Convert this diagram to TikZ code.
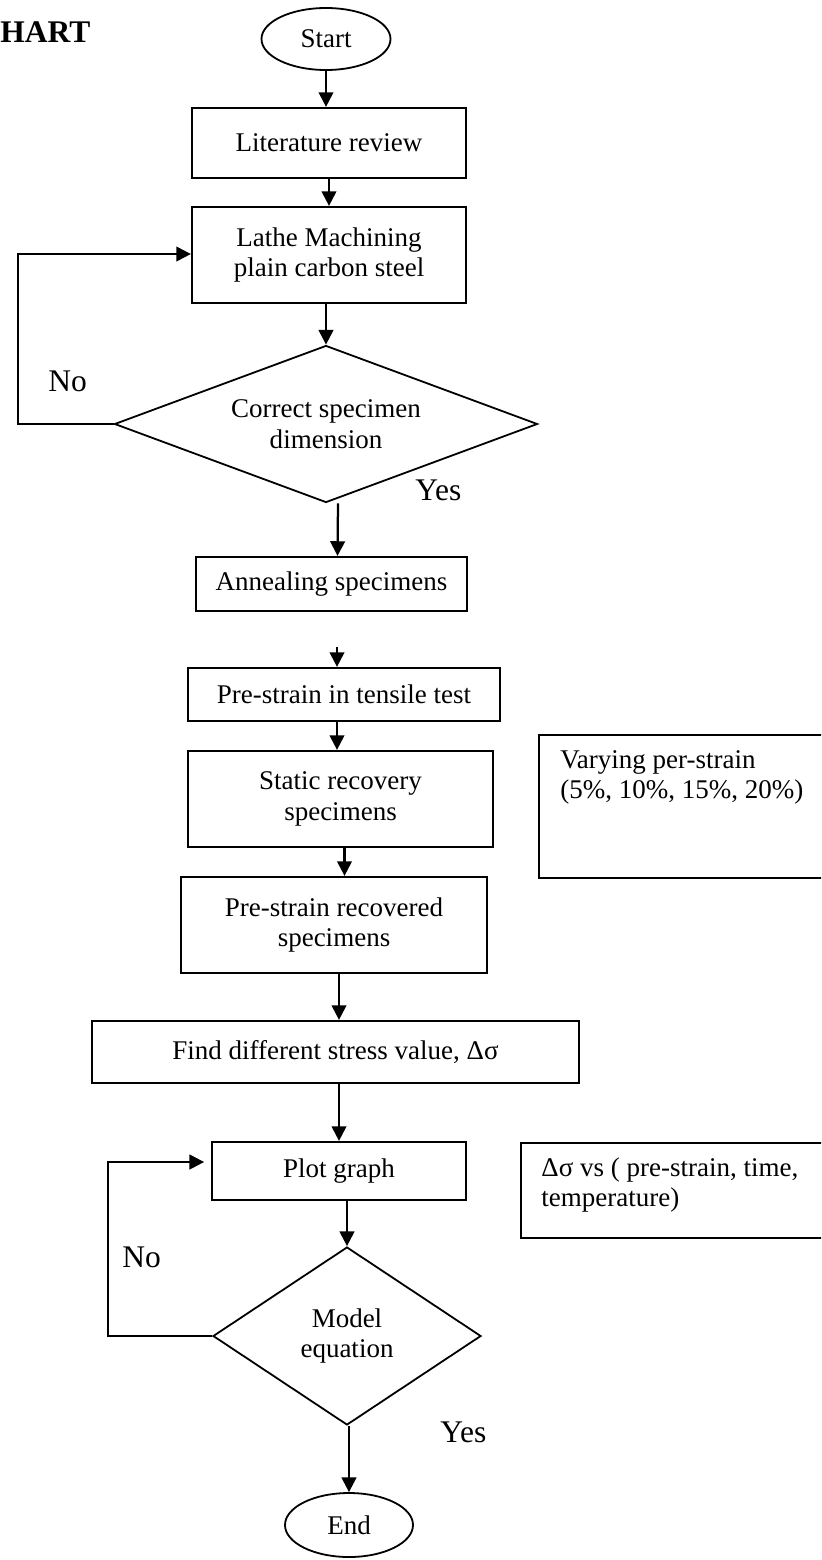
\documentclass[tikz,border=0pt]{standalone}
\usepackage{fontspec}
\setmainfont{Liberation Serif}
\usetikzlibrary{shapes.geometric,arrows.meta,calc}
\newcommand{\px}{0.4444pt}

\begin{document}
\begin{tikzpicture}[x = \px, y = -\px, >= {Triangle[length=6.5pt,width=6.5pt]},
    every node/.style = {font=\fontsize{12}{13.5}\selectfont},
    box/.style = {draw, line width=1pt, rectangle, align=center, inner sep=0pt},
    term/.style = {draw, line width=0.8pt, ellipse, inner sep=0pt},
    decision/.style = {draw, line width=0.8pt, diamond, align=center, inner sep=0pt},
    note/.style = {align=left, inner sep=0pt, anchor=north west},
    answer/.style = {font=\fontsize{14}{16}\selectfont, anchor=base west, inner sep=0pt},
    flow/.style = {->, line width=1pt}]
      \useasboundingbox (0, 0) rectangle (821, 1560);
      \clip (0, 0) rectangle (821, 1560);
      \node[font=\bfseries\fontsize{14}{16}\selectfont, anchor=base west, inner sep=0pt] (title) at (0, 42) {HART};
      % main column
      \node[term, minimum width=129*\px, minimum height=62*\px] (start) at (326, 39) {Start};
      \node[box, minimum width=274*\px, minimum height=70*\px] (lit) at (329, 143) {Literature review};
      \node[box, minimum width=274*\px, minimum height=96*\px] (lathe) at (329, 255) {Lathe Machining\\plain carbon steel};
      \node[decision, aspect=2.7, minimum width=423*\px, minimum height=157*\px] (check) at (326, 424) {Correct specimen\\dimension};
      \node[box, minimum width=271*\px, minimum height=54*\px] (anneal) at (331.5, 584) {Annealing specimens};
      \node[box, minimum width=312*\px, minimum height=53*\px] (prestrain) at (344, 694.5) {Pre-strain in tensile test};
      \node[box, minimum width=305*\px, minimum height=96*\px] (recovery) at (340.5, 799) {Static recovery\\specimens};
      \node[box, minimum width=306*\px, minimum height=96*\px] (restrain) at (334, 925) {Pre-strain recovered\\specimens};
      \node[box, minimum width=487*\px, minimum height=62*\px] (stress) at (335.5, 1052) {Find different stress value, Δσ};
      \node[box, minimum width=254*\px, minimum height=58*\px] (plot) at (339, 1171) {Plot graph};
      \node[decision, aspect=1.5, minimum width=268*\px, minimum height=178*\px] (model) at (347, 1336) {Model\\equation};
      \node[term, minimum width=128*\px, minimum height=64*\px] (end) at (349, 1525) {End};
      % side notes
      \node[box, anchor=north west, minimum width=320*\px, minimum height=143*\px] (vary) at (538, 734) {};
      \node[note] (varytext) at (560, 750) {Varying per-strain\\(5\%, 10\%, 15\%, 20\%)};
      \node[box, anchor=north west, minimum width=320*\px, minimum height=95*\px] (vsbox) at (520, 1142) {};
      \node[note] (vstext) at (541, 1157) {Δσ vs ( pre-strain, time,\\temperature)};
      % answers
      \node[answer] (no1) at (48, 391) {No};
      \node[answer] (yes1) at (415, 500) {Yes};
      \node[answer] (no2) at (122, 1267) {No};
      \node[answer] (yes2) at (440, 1442) {Yes};
      % arrows
      \draw[flow] (start) -- (start |- lit.north);
      \draw[flow] (lit) -- (lathe);
      \draw[flow] (lathe.south -| check.north) -- (check.north);
      \draw[flow] ($(check.south)+(12, 0)$) -- ($(anneal.north)+(6, 0)$);
      \coordinate (gap) at (337, 647);
      \draw[flow] (gap) -- (gap |- prestrain.north);
      \draw[flow] (gap |- prestrain.south) -- (gap |- recovery.north);
      \draw[flow] ($(recovery.south)+(4, 0)$) -- ($(recovery.south |- restrain.north)+(4, 0)$);
      \draw[flow] ($(restrain.south)+(5, 0)$) -- ($(restrain.south |- stress.north)+(5, 0)$);
      \draw[flow] (plot |- stress.south) -- (plot.north);
      \draw[flow] (plot.south -| model.north) -- (model.north);
      \draw[flow] (model.south -| end.north) -- (end.north);
      % loops back
      \coordinate (loop1) at (18, 254);
      \draw[flow] (check.west) -| (loop1) -- (loop1 -| lathe.west);
      \coordinate (loop2) at (108, 1162);
      \draw[flow, shorten >= 3pt] (model.west) -| (loop2) -- (loop2 -| plot.west);
\end{tikzpicture}
\end{document}
